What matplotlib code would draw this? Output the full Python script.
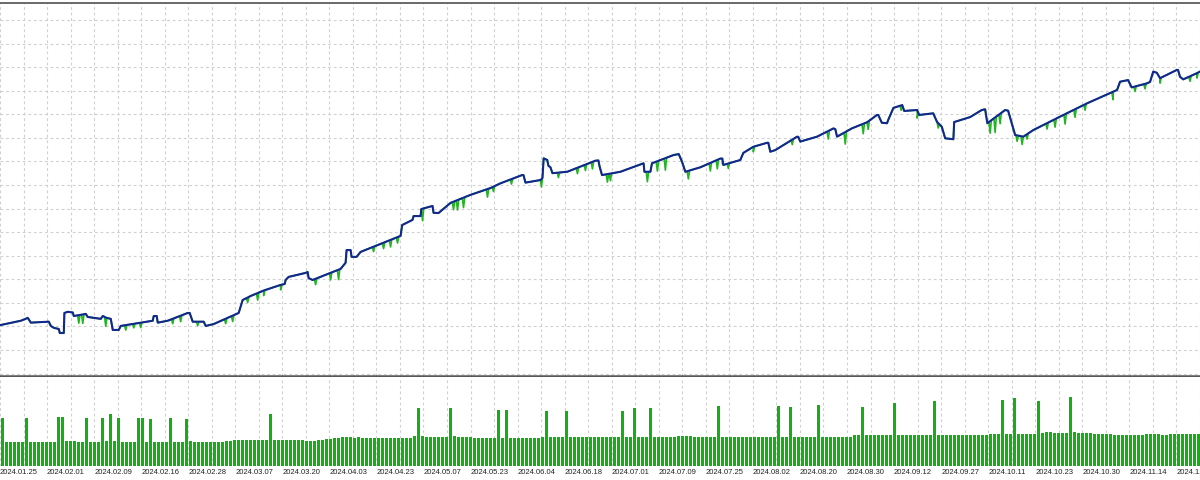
import numpy as np
import matplotlib
matplotlib.use("Agg")
import matplotlib.pyplot as plt

# balance curve: deal number -> balance ($)
bal_x = [0, 5, 6.75, 7.5, 12, 12.5, 13.25, 14.5, 14.75, 15.75, 15.9, 16.75, 18, 18.25,
         21.25, 21.75, 25, 25.5, 26.5, 27.5, 28, 29.5, 30, 38, 38.25, 39, 39.25, 41.75,
         46.75, 47.25, 48, 50.75, 51.25, 53.25, 59.5, 60.5, 62.5,
         65.75, 70, 71, 71.25, 72, 76.25, 76.75, 77, 78, 85, 86.25, 86.5, 87.5, 87.75,
         89, 90, 100, 100.4, 103, 103.25, 105, 105.2, 108, 108.25, 109.5, 112.5, 117.5,
         122.5, 125, 130.4, 130.75, 131.25, 135, 135.5, 135.8, 136.7, 137, 137.5, 138,
         141.7, 148.75, 149.5, 149.8, 150.4, 155, 160.8, 161, 162.5, 162.9, 168.3, 169.6,
         170.4, 171.25, 175, 180, 180.5, 180.75, 185, 185.75, 188.25, 191.7, 192, 192.5,
         193.75, 199.2, 199.5, 200, 204.2, 208.3, 208.75, 209.2, 212.9, 216.7, 219.2,
         219.5, 220.4, 221.7, 222, 223.3, 225.5, 226, 229.25, 229.75, 233.25, 234.2,
         235.4, 236.25, 238.3, 238.5, 242.5, 245.4, 246.25, 246.8, 251.25, 252, 252.9,
         253.75, 255.8, 258.3, 265, 271.7, 278.3, 279.25, 280, 282, 282.9, 286.7, 287.5,
         288.3, 289.2, 290, 292.5, 294.2, 294.5, 295, 295.8, 299.2, 300]
bal_y = [10530, 10620, 10680, 10580, 10600, 10510, 10470, 10445, 10360, 10360, 10785,
         10810, 10795, 10720, 10765, 10700, 10660, 10720, 10680, 10660, 10425, 10425,
         10510, 10620, 10720, 10720, 10580, 10620, 10785, 10785, 10600, 10600, 10510,
         10550, 10785, 11060, 11145,
         11260, 11380, 11400, 11485, 11550, 11635, 11655, 11525, 11485, 11720, 11850,
         12120, 12120, 11975, 11975, 12080, 12420, 12650, 12760, 12840, 12840, 12990,
         13055, 12910, 12905, 13120, 13290, 13435, 13535, 13710, 13710, 13550, 13605,
         13650, 14065, 14030, 13905, 13875, 13750, 13780, 14015, 14020, 13890, 13710,
         13780, 13960, 13780, 13780, 13960, 14135, 14155, 13995, 13780, 13875, 14060,
         14060, 13925, 14030, 14180, 14310, 14395, 14395, 14205, 14240, 14525, 14520,
         14420, 14525, 14700, 14685, 14525, 14700, 14830, 14985, 14985, 14820, 14810,
         14880, 15135, 15195, 15070, 15090, 14985, 15020, 14840, 14735, 14490, 14470,
         14835, 14940, 15090, 15105, 14810, 15090, 15075, 14810, 14560, 14525, 14665,
         14950, 15230, 15480, 15515, 15690, 15725, 15570, 15655, 15685, 15905, 15880,
         15765, 15870, 15940, 15940, 15795, 15740, 15870, 15905]

# equity drawdowns below balance: deal number, depth ($)
dip_x = [19.5, 20.5, 26.25, 31.25, 33.25, 35, 43, 45, 49.25, 56.25, 58, 61.75, 64.25,
         65.75, 70, 78.75, 82.5, 84.5, 93.25, 95.75, 97.5, 99.25, 105.5, 113.25, 114.25,
         115.75, 121.75, 123.25, 127.75, 135.25, 139.5, 144.25, 146.25, 148, 151.75,
         152.5, 161.75, 164.25, 166.25, 172, 177.5, 179.25, 180.5, 182, 188.25, 198, 207,
         211.25, 215.75, 217, 225.25, 229.25, 234.5, 247.5, 248.75, 250, 254.25, 255.5,
         256.75, 261.75, 263.75, 266.25, 268.75, 271.25, 278.25, 283.75, 286.25, 290,
         297.5, 299.25]
dip_depth = [170, 190, 190, 105, 85, 105, 105, 125, 85, 105, 125, 105, 150, 105, 105,
             125, 150, 210, 105, 125, 150, 125, 255, 170, 210, 210, 170, 105, 105, 170,
             105, 125, 125, 150, 170, 150, 210, 210, 255, 170, 170, 190, 105, 105, 105,
             105, 170, 255, 210, 170, 105, 170, 105, 255, 320, 210, 125, 170, 105, 125,
             170, 210, 170, 125, 170, 105, 105, 105, 105, 105]

# deposit load per deal (%)
load = [4.8, 2.4, 2.4, 2.4, 2.4, 2.4, 4.8, 2.4, 2.4, 2.4, 2.4, 2.4, 2.4, 2.4, 4.9, 4.9, 2.5, 2.5, 2.5, 2.4,
        2.4, 4.8, 2.4, 2.4, 2.4, 4.8, 2.5, 5.2, 2.5, 4.8, 2.4, 2.4, 2.4, 2.4, 4.8, 4.8, 2.4, 4.7, 2.4, 2.4,
        2.4, 2.4, 4.8, 2.4, 2.4, 2.4, 4.7, 2.5, 2.4, 2.4, 2.4, 2.4, 2.4, 2.4, 2.4, 2.4, 2.5, 2.5, 2.6, 2.6,
        2.6, 2.6, 2.6, 2.6, 2.6, 2.6, 2.6, 5.2, 2.6, 2.6, 2.6, 2.6, 2.6, 2.6, 2.6, 2.6, 2.5, 2.5, 2.5, 2.6,
        2.6, 2.7, 2.7, 2.8, 2.8, 2.9, 2.9, 2.9, 2.8, 2.9, 2.8, 2.8, 2.8, 2.8, 2.8, 2.8, 2.8, 2.8, 2.8, 2.8,
        2.8, 2.8, 2.8, 3.0, 5.8, 3.0, 2.9, 2.9, 2.9, 2.9, 2.9, 2.9, 5.8, 3.0, 2.9, 2.9, 2.9, 2.9, 2.8, 2.8,
        2.8, 2.8, 2.8, 2.8, 5.6, 2.8, 5.6, 2.8, 2.8, 2.8, 2.8, 2.8, 2.8, 2.8, 2.8, 2.9, 5.5, 2.9, 2.9, 2.9,
        2.9, 5.5, 2.9, 2.9, 2.9, 2.9, 2.9, 2.9, 2.9, 2.9, 2.9, 2.9, 2.9, 2.9, 2.9, 5.5, 2.9, 2.9, 5.8, 2.9,
        2.9, 2.9, 5.8, 2.9, 2.9, 2.9, 2.9, 2.9, 2.9, 3.0, 3.0, 3.0, 3.0, 2.9, 2.9, 2.9, 2.9, 2.9, 2.9, 6.0,
        2.9, 2.9, 2.9, 2.9, 2.9, 2.9, 2.9, 2.9, 2.9, 2.9, 2.9, 2.9, 2.9, 2.9, 6.0, 2.9, 2.9, 5.9, 2.9, 2.9,
        2.9, 2.9, 2.9, 2.9, 6.1, 2.9, 2.9, 2.9, 2.9, 2.9, 2.9, 2.9, 2.9, 3.1, 3.1, 5.9, 3.1, 3.1, 3.1, 3.1,
        3.1, 3.1, 3.1, 6.3, 3.1, 3.1, 3.1, 3.1, 3.1, 3.1, 3.1, 3.1, 3.1, 6.5, 3.1, 3.1, 3.1, 3.1, 3.1, 3.1,
        3.1, 3.1, 3.1, 3.1, 3.1, 3.1, 3.1, 3.2, 3.2, 3.2, 6.6, 3.2, 3.2, 6.8, 3.2, 3.2, 3.2, 3.2, 3.2, 6.5,
        3.3, 3.4, 3.4, 3.3, 3.3, 3.3, 3.3, 6.9, 3.4, 3.3, 3.3, 3.3, 3.3, 3.2, 3.2, 3.2, 3.2, 3.2, 3.1, 3.1,
        3.1, 3.1, 3.1, 3.1, 3.1, 3.1, 3.2, 3.2, 3.2, 3.2, 3.1, 3.1, 3.2, 3.2, 3.2, 3.2, 3.2, 3.2, 3.2, 3.2]

date_labels = ["2024.01.25", "2024.02.01", "2024.02.09", "2024.02.16", "2024.02.28",
               "2024.03.07", "2024.03.20", "2024.04.03", "2024.04.23", "2024.05.07",
               "2024.05.23", "2024.06.04", "2024.06.18", "2024.07.01", "2024.07.09",
               "2024.07.25", "2024.08.02", "2024.08.20", "2024.08.30", "2024.09.12",
               "2024.09.27", "2024.10.11", "2024.10.23", "2024.10.30", "2024.11.14",
               "2024.12.02"]

n_deals = len(load)

# equity = balance with drawdown spikes
bx = np.array(bal_x, dtype=float)
by = np.array(bal_y, dtype=float)
pts = list(zip(bx, by))
for d, dep in zip(dip_x, dip_depth):
    for dx, k in ((-0.3, 0), (0.0, 1), (0.3, 0)):
        xx = d + dx
        pts.append((xx, np.interp(xx, bx, by) - k * dep))
pts.sort(key=lambda p: p[0])
eq_x = [p[0] for p in pts]
eq_y = [p[1] for p in pts]

fig = plt.figure(figsize=(12, 4.8), dpi=100)
ax = fig.add_axes([0, 0.21667, 1, 0.77708])
ax2 = fig.add_axes([0, 0.02917, 1, 0.18542])

grid_step = 5.886
grid_pos = -0.21 + grid_step * np.arange(52)
dash = (0, (2.5, 2.5))

# top panel
ax.plot(eq_x, eq_y, color="#22b422", lw=1.2, zorder=3)
ax.plot(bx, by, color="#13288e", lw=1.5, zorder=4)
ax.set_xlim(0, n_deals)
ax.set_ylim(9448, 17360)
ax.set_yticks(np.arange(9500, 17500, 500))
ax.set_xticks(grid_pos)
ax.grid(True, ls=dash, color="#d0d0d0", lw=0.8)
ax.tick_params(length=0, labelbottom=False, labelleft=False)
for s in ("left", "right"):
    ax.spines[s].set_visible(False)
ax.spines["top"].set_color("#505050")
ax.spines["top"].set_linewidth(1.2)
ax.spines["bottom"].set_color("#585858")
ax.spines["bottom"].set_linewidth(1.8)

# bottom panel
ax2.bar(np.arange(n_deals) + 0.5, load, width=0.75, color="#12b012", zorder=3)
ax2.set_xlim(0, n_deals)
ax2.set_ylim(0, 8.9)
labels = [date_labels[j // 2] if j % 2 == 0 and j // 2 < len(date_labels) else "" for j in range(len(grid_pos))]
ax2.set_xticks(grid_pos, labels)
ax2.set_yticks([])
ax2.grid(True, axis="x", ls=dash, color="#d0d0d0", lw=0.8)
ax2.tick_params(length=0, pad=2.5)
for lab in ax2.get_xticklabels():
    lab.set_horizontalalignment("left")
    lab.set_family("Liberation Sans")
    lab.set_fontsize(5.5)
    lab.set_color("#222222")
for s in ax2.spines.values():
    s.set_visible(False)

fig.savefig("out.png", dpi=100)
